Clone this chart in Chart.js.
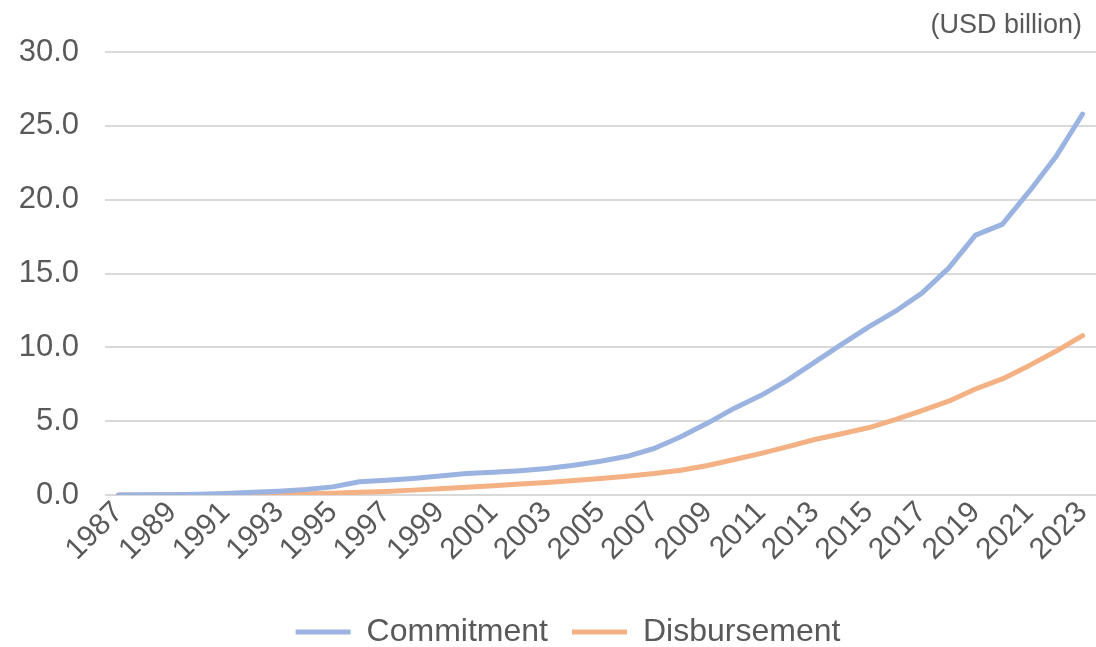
<!DOCTYPE html>
<html>
<head>
<meta charset="utf-8">
<script src="https://cdn.jsdelivr.net/npm/chart.js@4"></script>
<style>
  html, body { margin: 0; padding: 0; background: #ffffff; }
  #wrap { position: relative; width: 1096px; height: 647px; }
</style>
</head>
<body>
<div id="wrap"><canvas id="c" width="1096" height="647"></canvas></div>
<script>
const years = [];
for (let y = 1987; y <= 2023; y++) years.push(String(y));

const xTickLabels = ["1987","1989","1991","1993","1995","1997","1999","2001","2003","2005","2007","2009","2011","2013","2015","2017","2019","2021","2023"];

const commitment = [0.0, 0.01, 0.02, 0.05, 0.10, 0.18, 0.26, 0.38, 0.55, 0.90,
  1.00, 1.12, 1.28, 1.45, 1.54, 1.65, 1.80, 2.02, 2.28, 2.62,
  3.15, 3.95, 4.87, 5.88, 6.75, 7.80, 9.00, 10.20, 11.37, 12.43,
  13.67, 15.36, 17.60, 18.33, 20.54, 22.90, 25.80];

const disbursement = [0.0, 0.0, 0.01, 0.02, 0.03, 0.05, 0.07, 0.09, 0.12, 0.18,
  0.24, 0.33, 0.42, 0.52, 0.62, 0.74, 0.85, 0.98, 1.12, 1.27,
  1.45, 1.68, 2.00, 2.40, 2.82, 3.28, 3.76, 4.15, 4.55, 5.10,
  5.72, 6.35, 7.18, 7.86, 8.76, 9.73, 10.79];

const yTicks = [0, 5, 10, 15, 20, 25, 30];
const unitLabel = "(USD billion)";

const FONT = "'Liberation Sans', Arial, sans-serif";
const TEXT = "#595959";
const GRID = "#D9D9D9";

const unitPlugin = {
  id: 'unitLabel',
  afterLayout(chart) {
    if (chart.legend) {
      chart.legend.left += 20;
      chart.legend.right += 20;
    }
  },
  afterDraw(chart) {
    const ctx = chart.ctx;
    ctx.save();
    ctx.font = "27px " + FONT;
    ctx.fillStyle = TEXT;
    ctx.textAlign = 'right';
    ctx.textBaseline = 'alphabetic';
    ctx.fillText(unitLabel, 1082, 33);
    ctx.restore();
  }
};

new Chart(document.getElementById('c'), {
  type: 'line',
  data: {
    labels: years,
    datasets: [
      {
        label: 'Commitment',
        data: commitment,
        borderColor: '#9BB3E0',
        backgroundColor: '#9BB3E0',
        borderWidth: 5,
        pointRadius: 0,
        tension: 0,
        borderJoinStyle: 'round',
        borderCapStyle: 'round'
      },
      {
        label: 'Disbursement',
        data: disbursement,
        borderColor: '#F4B183',
        backgroundColor: '#F4B183',
        borderWidth: 5,
        pointRadius: 0,
        tension: 0,
        borderJoinStyle: 'round',
        borderCapStyle: 'round'
      }
    ]
  },
  options: {
    responsive: false,
    animation: false,
    devicePixelRatio: 1,
    layout: { padding: { top: 52, left: 0, right: 0, bottom: -11 } },
    plugins: {
      tooltip: { enabled: false },
      legend: {
        position: 'bottom',
        labels: {
          font: { family: FONT, size: 32 },
          color: TEXT,
          boxWidth: 55,
          boxHeight: 5,
          padding: 24,
          generateLabels: (chart) =>
            Chart.defaults.plugins.legend.labels.generateLabels(chart).map(l => ({ ...l, lineWidth: 0 }))
        }
      },
      title: { display: false }
    },
    scales: {
      x: {
        type: 'category',
        offset: true,
        grid: { display: false, drawTicks: false },
        border: { display: false },
        ticks: {
          autoSkip: false,
          maxRotation: 45,
          minRotation: 45,
          padding: 0,
          color: TEXT,
          font: { family: FONT, size: 30 },
          callback: function (value, index) {
            const lab = years[index];
            return xTickLabels.includes(lab) ? lab : '';
          }
        },
        afterFit(scale) {
          scale.height = 97;
          scale.paddingLeft = 0;
          scale.paddingRight = 0;
        }
      },
      y: {
        min: 0,
        max: 30,
        afterBuildTicks(scale) { scale.ticks = yTicks.map(v => ({ value: v })); },
        grid: { color: GRID, lineWidth: 2, drawTicks: false },
        border: { display: false },
        ticks: {
          padding: 26,
          color: TEXT,
          font: { family: FONT, size: 31 },
          callback: (v) => Number(v).toFixed(1)
        },
        afterFit(scale) { scale.width = 105; }
      }
    }
  },
  plugins: [unitPlugin]
});
</script>
</body>
</html>
